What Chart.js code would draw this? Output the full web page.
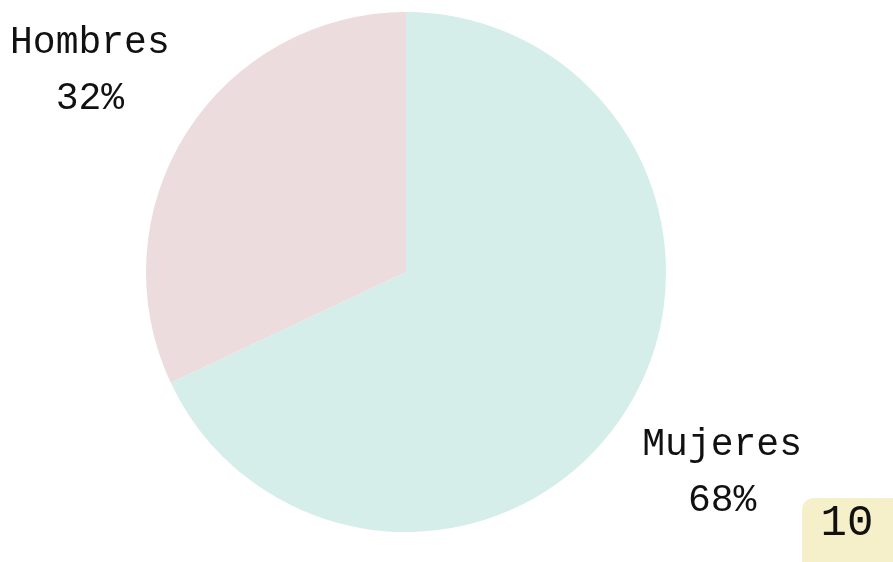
<!DOCTYPE html>
<html>
<head>
<meta charset="utf-8">
<script src="https://cdn.jsdelivr.net/npm/chart.js@4"></script>
<style>
  html, body { margin: 0; padding: 0; background: #fff; }
  #wrap { width: 893px; height: 562px; }
</style>
</head>
<body>
<div id="wrap"><canvas id="mychart" width="893" height="562"></canvas></div>
<script>
var categories = ['Mujeres', 'Hombres'];
var values = [68, 32];
var sliceColors = ['#d6eee9', '#ecdcdd'];
var pageNumber = '10';

var labelFont = '38px "Liberation Mono", "DejaVu Sans Mono", monospace';

// etiquetas fuera de la tarta + numero de pagina
var outLabels = {
	id: 'outLabels',
	afterDraw: function (chart) {
		var ctx = chart.ctx;
		var meta = chart.getDatasetMeta(0);
		var total = values.reduce(function (a, b) { return a + b; }, 0);
		ctx.save();
		ctx.fillStyle = '#111';
		ctx.font = labelFont;
		ctx.textAlign = 'center';
		ctx.textBaseline = 'middle';
		meta.data.forEach(function (arc, i) {
			var p = arc.getProps(['x', 'y', 'startAngle', 'endAngle', 'outerRadius'], true);
			var mid = (p.startAngle + p.endAngle) / 2;
			var d = p.outerRadius * 1.44;
			var x = p.x + Math.cos(mid) * d;
			var y = p.y + Math.sin(mid) * d;
			ctx.fillText(categories[i], x, y - 28);
			ctx.fillText(Math.round(values[i] / total * 100) + '%', x, y + 28);
		});

		// caja amarilla
		ctx.fillStyle = '#f5f0c9';
		ctx.beginPath();
		ctx.roundRect(802, 498, 120, 100, 12);
		ctx.fill();
		ctx.fillStyle = '#111';
		ctx.font = '44px "Liberation Mono", "DejaVu Sans Mono", monospace';
		ctx.fillText(pageNumber, 847, 523);
		ctx.restore();
	}
};

new Chart(document.getElementById('mychart'), {
	type: 'pie',
	plugins: [outLabels],
	data: {
		labels: categories,
		datasets: [{
			data: values,
			backgroundColor: sliceColors,
			borderWidth: 0
		}]
	},
	options: {
		responsive: false,
		animation: false,
		layout: { padding: { left: 146, right: 227, top: 12, bottom: 30 } },
		plugins: {
			legend: { display: false },
			tooltip: { enabled: false },
			title: { display: false }
		}
	}
});
</script>
</body>
</html>
